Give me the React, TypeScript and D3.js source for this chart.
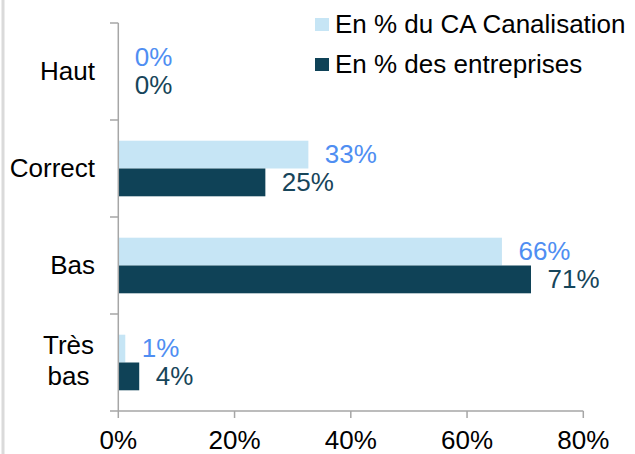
import React from "react";
import * as d3 from "d3";

const categories = ["Haut", "Correct", "Bas", "Très bas"];
const seriesNames = ["En % du CA Canalisation", "En % des entreprises"];
const caValues = [0, 32.7, 66, 1.2];
const entValues = [0, 25.3, 71, 3.6];
const xTicks = [0, 20, 40, 60, 80];

const W = 635;
const H = 454;
const x0 = 118.3;
const x1 = 583.3;
const yTop = 23;
const yBot = 411;
const FONT = "'Liberation Sans', Arial, sans-serif";
const FS = 26;
const lightBar = "#C6E5F5";
const darkBar = "#0F4257";
const lightLabel = "#4F8EF2";
const darkLabel = "#17455A";
const axisColor = "#A6A6A6";

export default function App() {
  const x = d3.scaleLinear().domain([0, 80]).range([x0, x1]);
  const y = d3.scaleBand<string>().domain(categories).range([yTop, yBot]).paddingInner(0).paddingOuter(0);
  const bw = y.bandwidth();
  const barH = 27.8;
  const series = [
    { name: seriesNames[0], values: caValues, fill: lightBar, label: lightLabel, off: -barH },
    { name: seriesNames[1], values: entValues, fill: darkBar, label: darkLabel, off: 0 },
  ];

  return (
    <svg width={W} height={H} style={{ position: "absolute", left: 0, top: 0, background: "#fff" }} fontFamily={FONT}>
      <rect x={1.5} y={0} width={3} height={H} fill="#DADADA" />
      {series.map((s, si) =>
        categories.map((c, i) => {
          const cy = (y(c) as number) + bw / 2;
          const top = cy + s.off;
          const v = s.values[i];
          return (
            <g key={si + "-" + i}>
              {v > 0 && <rect x={x(0)} y={top} width={x(v) - x(0)} height={barH} fill={s.fill} />}
              <text x={x(v) + 16.5} y={top + barH / 2} dy="0.34em" fontSize={FS} fill={s.label}>
                {Math.round(v) + "%"}
              </text>
            </g>
          );
        })
      )}
      {/* y axis */}
      <line x1={x0} x2={x0} y1={yTop} y2={yBot} stroke={axisColor} strokeWidth={1.5} />
      {[...categories.map((c) => y(c) as number), yBot].map((t, i) => (
        <line key={"yt" + i} x1={110} x2={x0} y1={t} y2={t} stroke={axisColor} strokeWidth={1.5} />
      ))}
      {categories.map((c, i) => {
        const cy = (y(c) as number) + bw / 2;
        const lines = c === "Très bas" ? ["Très", "bas"] : [c];
        if (lines.length === 1) {
          return (
            <text key={"cl" + i} x={95} y={cy} dy="0.34em" fontSize={FS} textAnchor="end" fill="#000">
              {c}
            </text>
          );
        }
        return (
          <text key={"cl" + i} x={68.5} y={cy - 17.5} fontSize={FS} textAnchor="middle" fill="#000">
            {lines.map((l, j) => (
              <tspan key={j} x={68.5} dy={j === 0 ? "0.34em" : 31}>
                {l}
              </tspan>
            ))}
          </text>
        );
      })}
      {/* x axis */}
      <line x1={x0} x2={x1} y1={yBot} y2={yBot} stroke={axisColor} strokeWidth={1.5} />
      {xTicks.map((t) => (
        <g key={"xt" + t}>
          <line x1={x(t)} x2={x(t)} y1={yBot} y2={yBot + 7} stroke={axisColor} strokeWidth={1.5} />
          <text x={x(t)} y={449} fontSize={FS} textAnchor="middle" fill="#000">
            {t + "%"}
          </text>
        </g>
      ))}
      {/* legend */}
      {series.map((s, i) => (
        <g key={"lg" + i}>
          <rect x={315} y={18 + i * 40} width={14} height={13} fill={s.fill} />
          <text x={335} y={33 + i * 40} fontSize={FS} fill="#000">
            {s.name}
          </text>
        </g>
      ))}
    </svg>
  );
}
